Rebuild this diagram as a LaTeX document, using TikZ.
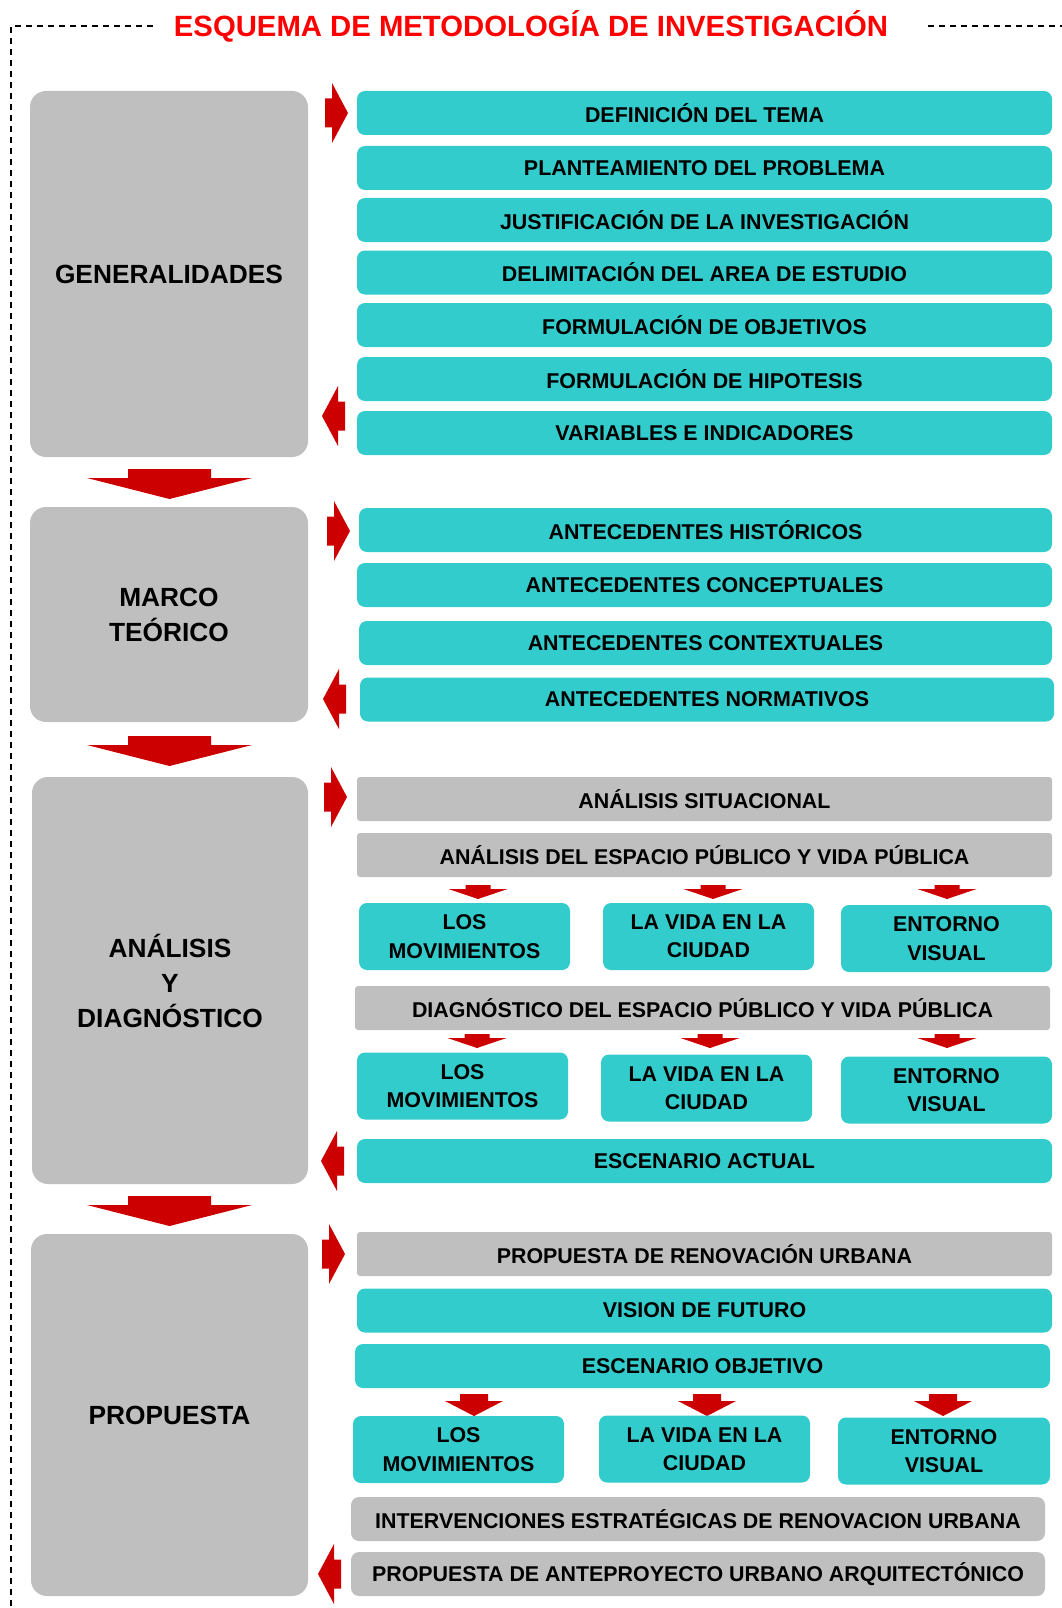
\documentclass[tikz,border=0pt]{standalone}
\usepackage{fontspec}
\setmainfont{Liberation Sans}
\definecolor{tealc}{HTML}{33CCCC}
\definecolor{grayc}{HTML}{BFBFBF}
\definecolor{arrred}{HTML}{CC0000}
\definecolor{titred}{HTML}{FF0000}
\newcommand\boxfnt{\bfseries\fontsize{21.4}{28.3}\selectfont}
\newcommand\bigfnt{\bfseries\fontsize{26.3}{35}\selectfont}
\tikzset{
  x=1pt, y=-1pt,
  tbox/.style={fill=tealc, rounded corners=8pt, inner sep=0pt, font=\boxfnt, align=center, minimum height=44pt, minimum width=695pt},
  gbox/.style={fill=grayc, rounded corners=3pt, inner sep=0pt, font=\boxfnt, align=center, minimum height=44pt, minimum width=695pt},
  gboxr/.style={gbox, rounded corners=8pt},
  subbox/.style={fill=tealc, rounded corners=8pt, inner sep=0pt, font=\boxfnt, align=center, minimum height=67pt, minimum width=211pt},
  leftbox/.style={fill=grayc, rounded corners=16pt, inner sep=0pt, font=\bigfnt, align=center, minimum width=278pt},
  rarr/.pic={\fill[arrred] (-23,-14.5) -- (-16,-14.5) -- (-16,-30) -- (0,0) -- (-16,30) -- (-16,14.5) -- (-23,14.5) -- cycle;},
  larr/.pic={\fill[arrred] (23,-14.5) -- (16,-14.5) -- (16,-30) -- (0,0) -- (16,30) -- (16,14.5) -- (23,14.5) -- cycle;},
  bigdarr/.pic={\fill[arrred] (-41.5,-30) -- (41.5,-30) -- (41.5,-21) -- (82.5,-21) -- (0,0) -- (-82.5,-21) -- (-41.5,-21) -- cycle;},
  smalldarr/.pic={\fill[arrred] (-12.5,-14) -- (12.5,-14) -- (12.5,-10) -- (29.5,-10) -- (0,0) -- (-29.5,-10) -- (-12.5,-10) -- cycle;},
  meddarr/.pic={\fill[arrred] (-14,-22) -- (14,-22) -- (14,-15) -- (29,-15) -- (0,0) -- (-29,-15) -- (-14,-15) -- cycle;},
  frame/.style={draw=black, line width=1.5pt, dash pattern=on 6pt off 5pt}
}
\begin{document}
\begin{tikzpicture}
\useasboundingbox (0,0) rectangle (1062,1608);
% frame
\coordinate (f1) at (153,26);
\coordinate (f0) at (11,26);
\coordinate (f2) at (11,1608);
\coordinate (f3) at (928,26);
\coordinate (f4) at (1062,26);
\draw[frame] (f1) -- (f0) -- (f2);
\draw[frame] (f3) -- (f4);
\node[text=titred, font=\bfseries\fontsize{29.3}{33}\selectfont, inner sep=0pt] (title) at (531,26) {ESQUEMA DE METODOLOGÍA DE INVESTIGACIÓN};

% left boxes
\node[leftbox, minimum height=366pt] (gen) at (169,274) {GENERALIDADES};
\node[leftbox, minimum height=215pt] (marco) at (169,614.5) {MARCO\\TEÓRICO};
\node[leftbox, minimum width=276pt, minimum height=407pt] (anal) at (170,980.5) {ANÁLISIS\\Y\\DIAGNÓSTICO};
\node[leftbox, minimum width=277pt, minimum height=362pt] (prop) at (169.5,1415) {PROPUESTA};

\pic at (169.5,499) {bigdarr};
\pic at (169.5,766) {bigdarr};
\pic at (169.5,1226) {bigdarr};

% generalidades
\node[tbox] (g1) at (704.5,113) {DEFINICIÓN DEL TEMA};
\node[tbox] (g2) at (704.5,168) {PLANTEAMIENTO DEL PROBLEMA};
\node[tbox] (g3) at (704.5,220) {JUSTIFICACIÓN DE LA INVESTIGACIÓN};
\node[tbox] (g4) at (704.5,272.5) {DELIMITACIÓN DEL AREA DE ESTUDIO};
\node[tbox] (g5) at (704.5,325) {FORMULACIÓN DE OBJETIVOS};
\node[tbox] (g6) at (704.5,379) {FORMULACIÓN DE HIPOTESIS};
\node[tbox] (g7) at (704.5,433) {VARIABLES E INDICADORES};
\pic at (348,113) {rarr};
\pic at (322,416) {larr};

% marco
\node[tbox, minimum width=693pt] (m1) at (705.5,530) {ANTECEDENTES HISTÓRICOS};
\node[tbox] (m2) at (704.5,585) {ANTECEDENTES CONCEPTUALES};
\node[tbox, minimum width=693pt] (m3) at (705.5,643) {ANTECEDENTES CONTEXTUALES};
\node[tbox, minimum width=694pt] (m4) at (707,699.5) {ANTECEDENTES NORMATIVOS};
\pic at (350,531) {rarr};
\pic at (323,699) {larr};

% analisis
\node[gbox] (a1) at (704.5,799) {ANÁLISIS SITUACIONAL};
\node[gbox] (a2) at (704.5,855) {ANÁLISIS DEL ESPACIO PÚBLICO Y VIDA PÚBLICA};
\pic at (478,899) {smalldarr};
\pic at (713,899) {smalldarr};
\pic at (947,899) {smalldarr};
\node[subbox] (a3) at (464.5,936.5) {LOS\\MOVIMIENTOS};
\node[subbox] (a4) at (708.5,936.5) {LA VIDA EN LA\\CIUDAD};
\node[subbox] (a5) at (946.5,938.5) {ENTORNO\\VISUAL};
\node[gbox] (a6) at (702.5,1008) {DIAGNÓSTICO DEL ESPACIO PÚBLICO Y VIDA PÚBLICA};
\pic at (477,1048) {smalldarr};
\pic at (710,1048) {smalldarr};
\pic at (947,1048) {smalldarr};
\node[subbox] (a7) at (462.5,1086) {LOS\\MOVIMIENTOS};
\node[subbox] (a8) at (706.5,1088) {LA VIDA EN LA\\CIUDAD};
\node[subbox] (a9) at (946.5,1090) {ENTORNO\\VISUAL};
\node[tbox] (a10) at (704.5,1161) {ESCENARIO ACTUAL};
\pic at (347,797) {rarr};
\pic at (321,1161) {larr};

% propuesta
\node[gbox] (p1) at (704.5,1254) {PROPUESTA DE RENOVACIÓN URBANA};
\node[tbox] (p2) at (704.5,1310.5) {VISION DE FUTURO};
\node[tbox] (p3) at (702.5,1366) {ESCENARIO OBJETIVO};
\pic at (474,1416) {meddarr};
\pic at (707,1416) {meddarr};
\pic at (943,1416) {meddarr};
\node[subbox] (p4) at (458.5,1449.5) {LOS\\MOVIMIENTOS};
\node[subbox] (p5) at (704.5,1449) {LA VIDA EN LA\\CIUDAD};
\node[subbox, minimum width=212pt] (p6) at (944,1451) {ENTORNO\\VISUAL};
\node[gboxr, minimum width=694pt] (p7) at (698,1519) {INTERVENCIONES ESTRATÉGICAS DE RENOVACION URBANA};
\node[gboxr, minimum width=694pt] (p8) at (698,1574) {PROPUESTA DE ANTEPROYECTO URBANO ARQUITECTÓNICO};
\pic at (345,1254) {rarr};
\pic at (318,1574) {larr};
\end{tikzpicture}
\end{document}
